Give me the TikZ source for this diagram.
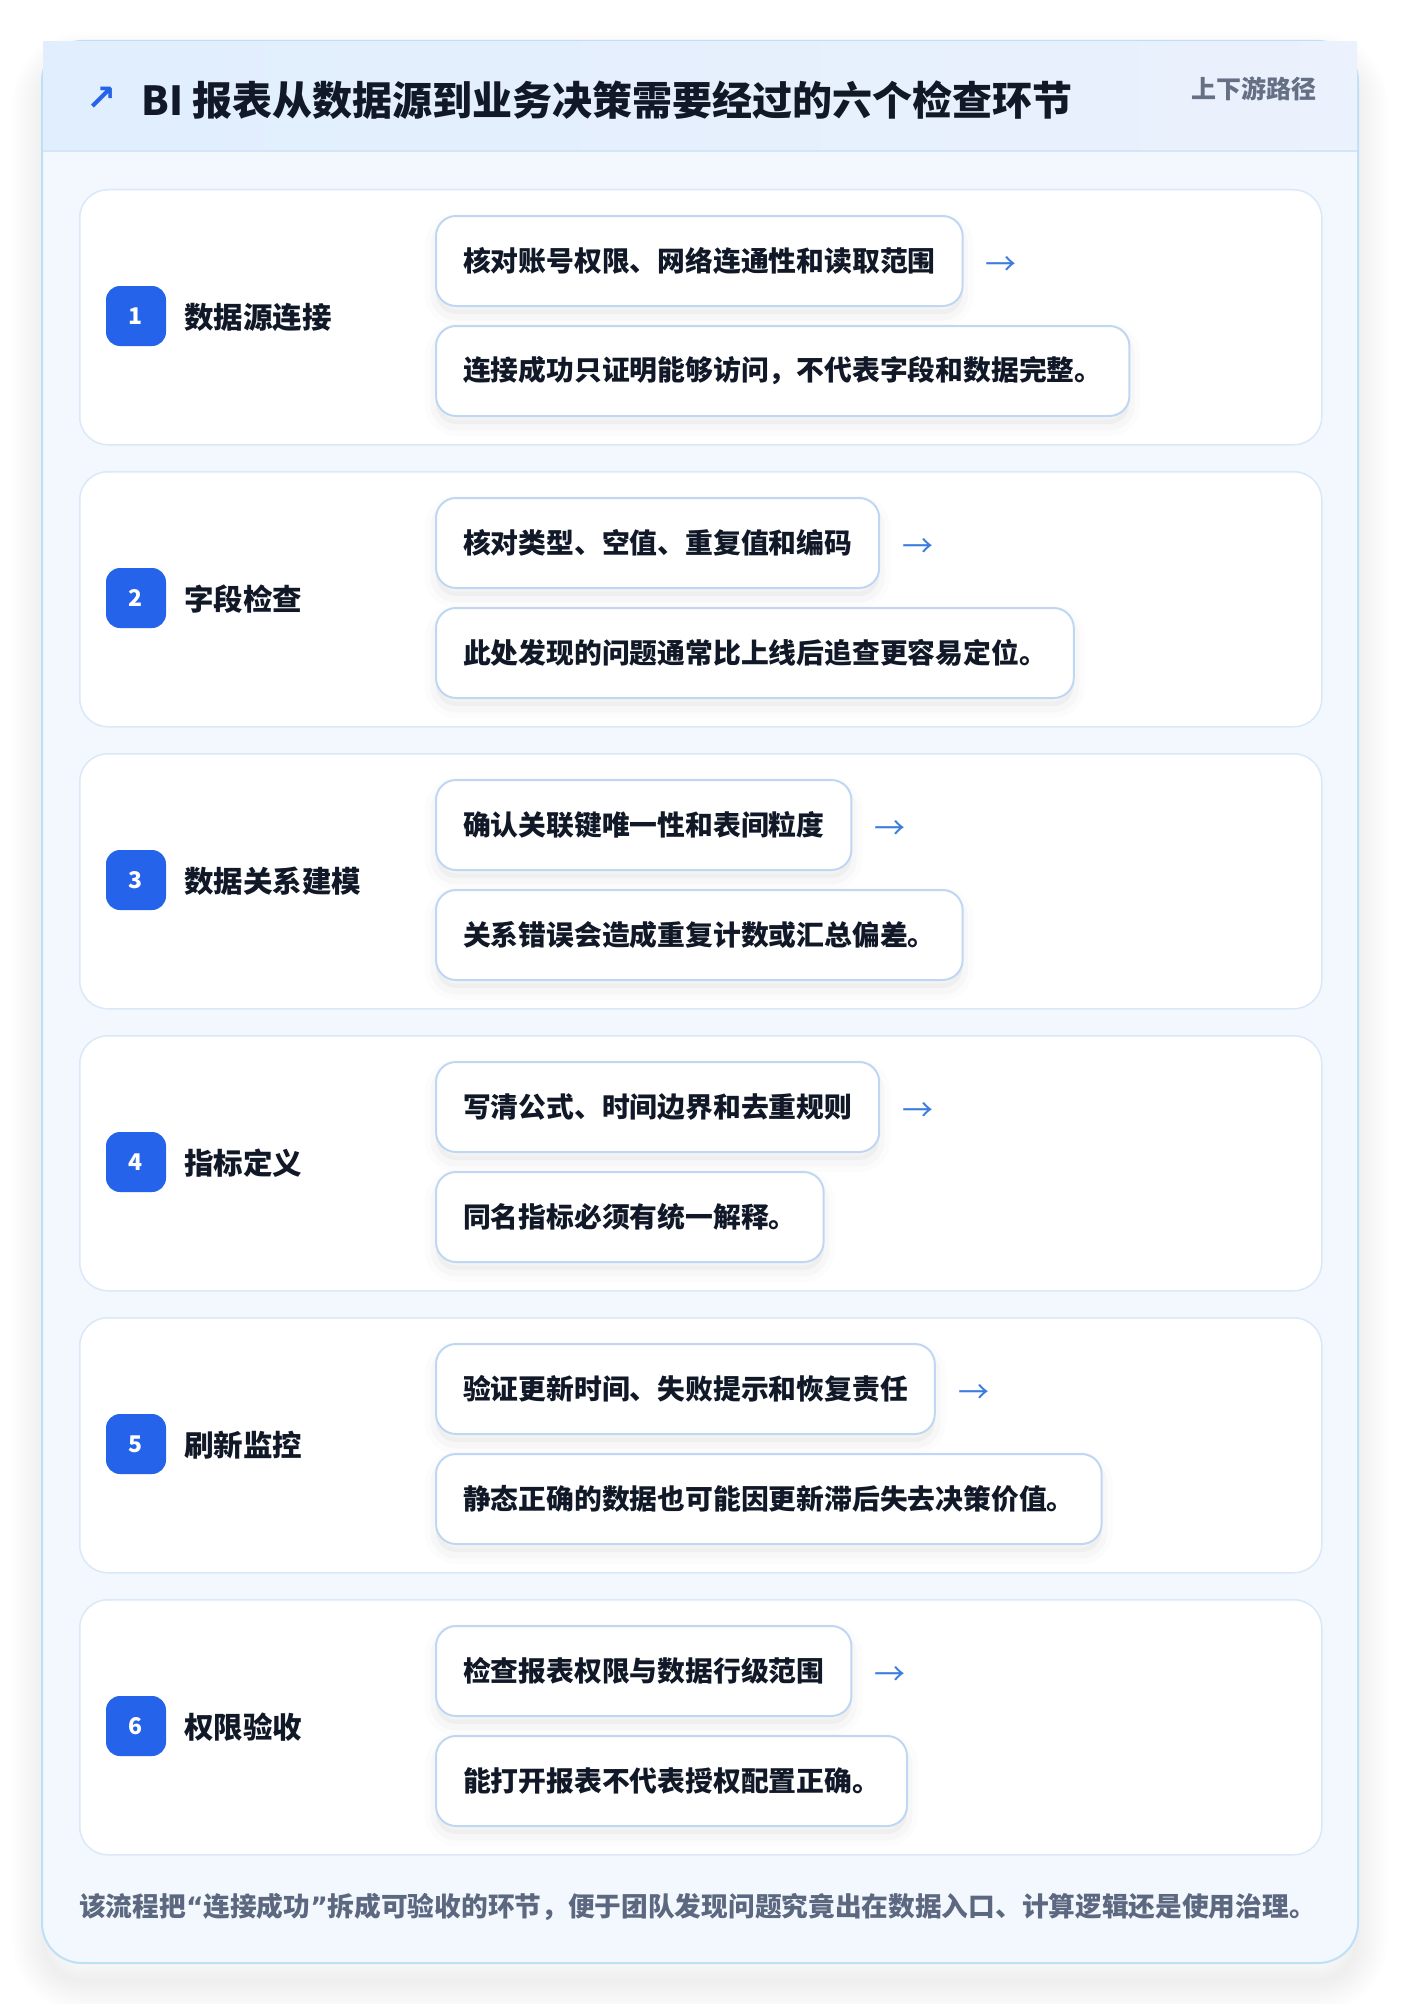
\documentclass[tikz,border=0pt]{standalone}
\usepackage{fontspec}
\setmainfont{Noto Sans CJK SC}
\newfontfamily\symfont{DejaVu Sans}
\usetikzlibrary{positioning}

\definecolor{cardbg}{HTML}{F3F8FE}
\definecolor{cardline}{HTML}{BEE0F7}
\definecolor{headL}{HTML}{E0EEFD}
\definecolor{headR}{HTML}{EBF1FD}
\definecolor{headline}{HTML}{D4E5F7}
\definecolor{stepline}{HTML}{DAE8F8}
\definecolor{boxline}{HTML}{C0D7F3}
\definecolor{badgeblue}{HTML}{2563EB}
\definecolor{ink}{HTML}{111827}
\definecolor{muted}{HTML}{667085}
\definecolor{footink}{HTML}{5C6880}
\definecolor{arrowblue}{HTML}{3B7DDD}

\tikzset{
  stepcard/.style={draw=stepline, line width=1.5pt, fill=white, rounded corners=28pt,
    minimum width=1242pt, minimum height=255pt, anchor=north west, inner sep=0pt},
  badge/.style={fill=badgeblue, rounded corners=14pt, minimum width=60pt, minimum height=60pt,
    inner sep=0pt, text=white, font=\fontsize{23}{23}\selectfont\bfseries},
  steplabel/.style={anchor=west, inner sep=0pt, text=ink, font=\fontsize{29.5}{30}\selectfont\bfseries},
  boxshadow/.style={
    preaction={draw=black, opacity=0.012, line width=22pt, transform canvas={yshift=-9pt}},
    preaction={draw=black, opacity=0.018, line width=11pt, transform canvas={yshift=-9pt}},
    preaction={fill=black, opacity=0.03, transform canvas={yshift=-8pt}}},
  detail/.style={draw=boxline, line width=2pt, fill=white, rounded corners=20pt, anchor=west,
    minimum height=90pt, inner xsep=27pt, text=ink, font=\fontsize{27.8}{28}\selectfont\bfseries, boxshadow},
  nextarrow/.style={inner sep=0pt, text=arrowblue, font=\fontsize{31}{31}\selectfont},
}

\begin{document}
\begin{tikzpicture}[x=1pt,y=-1pt]
  \fill[white] (0,0) rectangle (1400,2004);
  \useasboundingbox (0,0) rectangle (1400,2004);

  % soft shadow of the card
  \foreach \w in {4,8,...,64}
    \draw[black, opacity=0.0042, line width=\w pt, rounded corners=40pt, transform canvas={yshift=-18pt}]
      (44,45) rectangle (1356,1963);
  \path[draw=cardline, fill=cardbg, line width=2pt, rounded corners=40pt] (42,41) rectangle (1358,1963);
  \path[left color=headL, right color=headR] (43,42) rectangle (1357,151);
  \draw[headline, line width=1.5pt] (43,151) -- (1357,151);

  \node[inner sep=0pt, text=badgeblue, font=\symfont\bfseries\fontsize{36}{36}\selectfont] (icon) at (102,99) {↗};
  \node[anchor=west, inner sep=0pt, text=ink, font=\fontsize{40}{40}\selectfont\bfseries] (title) at (141,100)
    {BI 报表从数据源到业务决策需要经过的六个检查环节};
  \node[anchor=east, inner sep=0pt, text=muted, font=\fontsize{25}{26}\selectfont\bfseries] (tag) at (1317,89) {上下游路径};

  \foreach \i/\name/\check/\note in {
    1/数据源连接/核对账号权限、网络连通性和读取范围/连接成功只证明能够访问，不代表字段和数据完整。,
    2/字段检查/核对类型、空值、重复值和编码/此处发现的问题通常比上线后追查更容易定位。,
    3/数据关系建模/确认关联键唯一性和表间粒度/关系错误会造成重复计数或汇总偏差。,
    4/指标定义/写清公式、时间边界和去重规则/同名指标必须有统一解释。,
    5/刷新监控/验证更新时间、失败提示和恢复责任/静态正确的数据也可能因更新滞后失去决策价值。,
    6/权限验收/检查报表权限与数据行级范围/能打开报表不代表授权配置正确。}
  {
    \pgfmathsetmacro\cardy{189+(\i-1)*282}
    \node[stepcard] (s\i) at (79,\cardy) {};
    \node[badge] (b\i) at (136,\cardy+127) {\i};
    \node[steplabel] (l\i) at (184,\cardy+128) {\name};
    \node[detail] (c\i) at (435,\cardy+72) {\check};
    \node[detail] (n\i) at (435,\cardy+182) {\note};
    \node[nextarrow, right=22pt of c\i, yshift=-5pt] (a\i) {→};
  }

  \node[anchor=west, inner sep=0pt, text=footink, font=\fontsize{26.7}{28}\selectfont\bfseries] (foot) at (79,1907)
    {该流程把{\symfont “}连接成功{\symfont ”}拆成可验收的环节，便于团队发现问题究竟出在数据入口、计算逻辑还是使用治理。};
\end{tikzpicture}
\end{document}
